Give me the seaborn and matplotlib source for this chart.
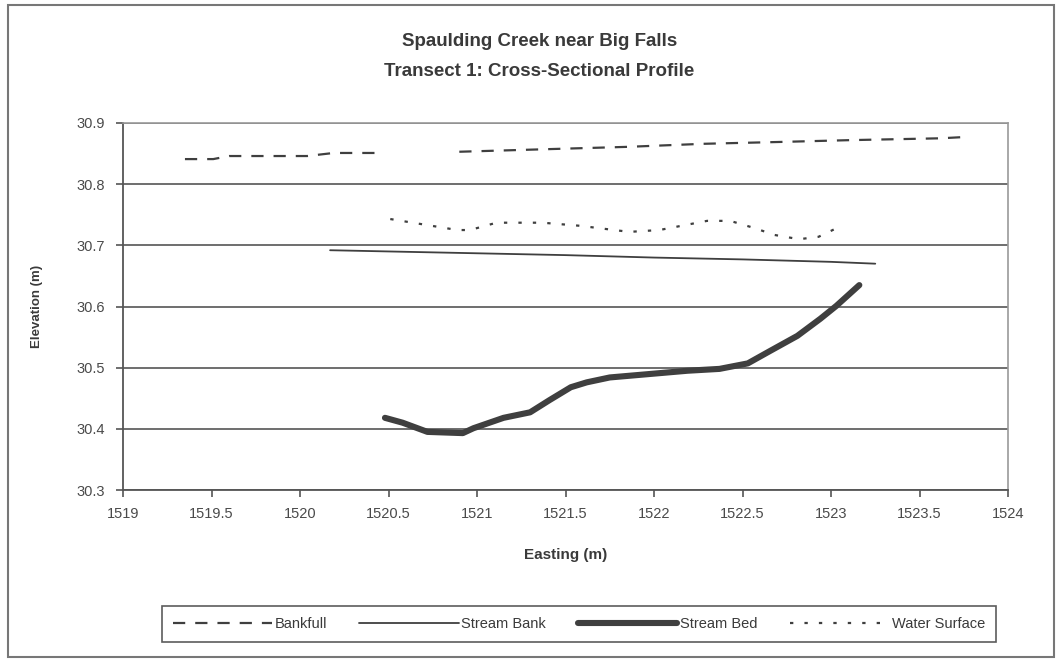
import numpy as np
import pandas as pd
import matplotlib
matplotlib.use("Agg")
import matplotlib.pyplot as plt
import seaborn as sns
from matplotlib.patches import Rectangle

# ---- data ----
bankfull_x = [1519.35, 1519.51, 1519.60, 1520.04, 1520.19, 1520.46, np.nan,
              1520.90, 1521.49, 1521.85, 1522.28, 1522.71, 1523.11, 1523.62, 1523.75]
bankfull_y = [30.841, 30.841, 30.846, 30.846, 30.851, 30.851, np.nan,
              30.853, 30.858, 30.861, 30.866, 30.869, 30.872, 30.875, 30.877]

bank_x = [1520.17, 1520.5, 1521.0, 1521.5, 1522.0, 1522.5, 1523.0, 1523.25]
bank_y = [30.692, 30.690, 30.687, 30.684, 30.680, 30.677, 30.673, 30.670]

bed_x = [1520.48, 1520.58, 1520.72, 1520.92, 1520.98, 1521.15, 1521.30, 1521.41,
         1521.53, 1521.62, 1521.75, 1521.99, 1522.19, 1522.37, 1522.53, 1522.66,
         1522.81, 1522.94, 1523.03, 1523.16]
bed_y = [30.418, 30.410, 30.395, 30.393, 30.401, 30.418, 30.427, 30.447,
         30.468, 30.476, 30.484, 30.490, 30.495, 30.498, 30.507, 30.528,
         30.552, 30.580, 30.601, 30.635]

water_x = [1520.51, 1520.89, 1520.96, 1521.11, 1521.37, 1521.58, 1521.86, 1522.03,
           1522.30, 1522.43, 1522.57, 1522.68, 1522.82, 1522.93, 1523.06]
water_y = [30.743, 30.725, 30.725, 30.737, 30.737, 30.732, 30.722, 30.725,
           30.740, 30.740, 30.728, 30.717, 30.710, 30.714, 30.732]

x_ticks = [1519, 1519.5, 1520, 1520.5, 1521, 1521.5, 1522, 1522.5, 1523, 1523.5, 1524]
y_ticks = [30.3, 30.4, 30.5, 30.6, 30.7, 30.8, 30.9]

title_lines = ["Spaulding Creek near Big Falls", "Transect 1: Cross-Sectional Profile"]

# ---- style ----
sns.set_theme(style="white")
plt.rcParams['font.family'] = ['Liberation Sans', 'DejaVu Sans']

fig = plt.figure(figsize=(10.62, 6.6), dpi=100)
ax = fig.add_axes([123/1062, 1-490/660, (1008-123)/1062, (490-123)/660])

line_col = "#3f3f3f"

# Bankfull, split at gap
bx = np.array(bankfull_x); by = np.array(bankfull_y)
gap = np.where(np.isnan(bx))[0]
segs = np.split(np.arange(len(bx)), gap)
first = True
for s in segs:
    s = [i for i in s if not np.isnan(bx[i])]
    df = pd.DataFrame({"x": bx[s], "y": by[s]})
    sns.lineplot(data=df, x="x", y="y", ax=ax, color=line_col, lw=1.6,
                 dashes=False, sort=False, estimator=None,
                 label="Bankfull" if first else None)
    ax.lines[-1].set_dashes((5.5, 4.5))
    first = False

sns.lineplot(x=bank_x, y=bank_y, ax=ax, color=line_col, lw=1.3,
             estimator=None, sort=False, label="Stream Bank")
sns.lineplot(x=bed_x, y=bed_y, ax=ax, color=line_col, lw=4.4,
             estimator=None, sort=False, label="Stream Bed")
sns.lineplot(x=water_x, y=water_y, ax=ax, color=line_col, lw=1.6,
             estimator=None, sort=False, label="Water Surface")
ax.lines[-1].set_dashes((1.5, 5))

ax.set_xlim(1519, 1524)
ax.set_ylim(30.3, 30.9)
ax.set_xticks(x_ticks)
ax.set_xticklabels([f"{t:g}" for t in x_ticks])
ax.set_yticks(y_ticks)
ax.set_yticklabels([f"{t:.1f}" for t in y_ticks])
ax.yaxis.grid(True, color="#6e6e6e", lw=1.4)
ax.xaxis.grid(False)
for side in ["top", "right"]:
    ax.spines[side].set_color("#9a9a9a")
    ax.spines[side].set_linewidth(1.2)
for side in ["left", "bottom"]:
    ax.spines[side].set_color("#555555")
    ax.spines[side].set_linewidth(1.3)
ax.tick_params(axis="both", direction="out", length=5, width=1.2, color="#555555",
               labelsize=10.5, labelcolor="#4a4a4a", left=True, bottom=True)
ax.tick_params(axis="x", pad=7)
ax.tick_params(axis="y", pad=8)
ax.set_xlabel("Easting (m)", fontsize=11, fontweight="bold", color="#3a3a3a", labelpad=20)
ax.set_ylabel("Elevation (m)", fontsize=9.5, fontweight="bold", color="#3a3a3a", labelpad=24)

fig.text(0.508, 1-42/660, title_lines[0], ha="center", va="center",
         fontsize=13.5, fontweight="bold", color="#3a3a3a")
fig.text(0.508, 1-72/660, title_lines[1], ha="center", va="center",
         fontsize=13.5, fontweight="bold", color="#3a3a3a")

leg = ax.legend(loc="center", bbox_to_anchor=(579/1062, 1-624/660),
                bbox_transform=fig.transFigure, ncol=4, frameon=True,
                fontsize=10.5, handlelength=6.8, handletextpad=0.2, columnspacing=2.2,
                fancybox=False, edgecolor="#333333", borderpad=0.75)
leg.get_frame().set_linewidth(1.2)
for t in leg.get_texts():
    t.set_color("#3a3a3a")

fig.patches.append(Rectangle((8/1062, 3/660), 1-16/1062, 1-8/660,
                             transform=fig.transFigure, fill=False,
                             edgecolor="#777777", lw=1.5))

fig.savefig("out.png", dpi=100)
